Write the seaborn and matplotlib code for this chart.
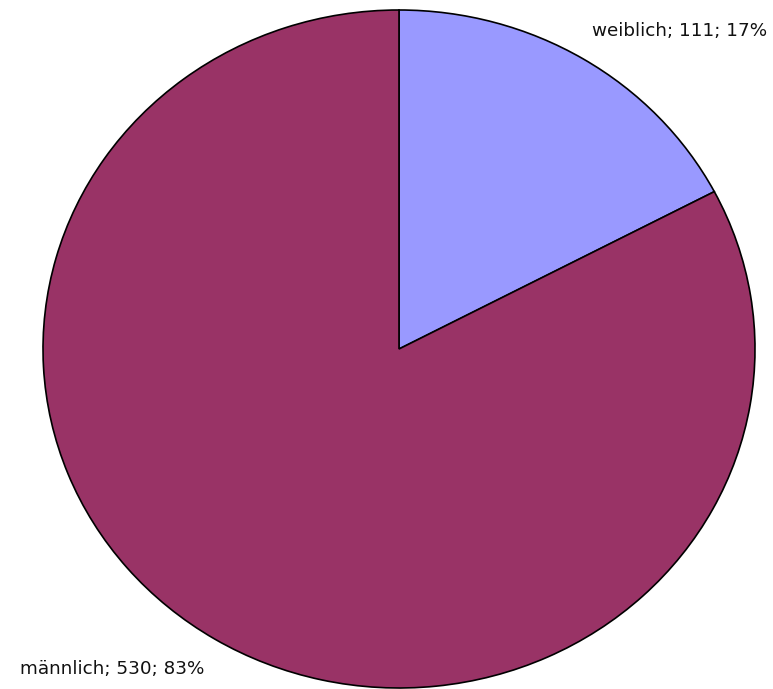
import matplotlib
matplotlib.use("Agg")
import matplotlib.pyplot as plt
import seaborn as sns

categories = ["weiblich", "männlich"]
values = [111, 530]
percents = [17, 83]
colors = ["#9999FF", "#993366"]

sns.set_style("white")
plt.rcParams['font.family'] = ['DejaVu Sans']

W, H = 773, 689
fig = plt.figure(figsize=(W / 100, H / 100), dpi=100)
fig.patch.set_facecolor("white")

# axes placed so the (elliptical) pie spans the same pixel extents
left, right, top, bottom = 43, 755, 10, 688
ax = fig.add_axes([left / W, (H - bottom) / H, (right - left) / W, (bottom - top) / H])
wedges, _ = ax.pie(values, colors=colors, startangle=90, counterclock=False,
                   wedgeprops=dict(edgecolor="black", linewidth=1.2))
ax.set_aspect("auto")
ax.set_xlim(-1, 1)
ax.set_ylim(-1, 1)
ax.axis("off")

labels = [f"{c}; {v}; {p}%" for c, v, p in zip(categories, values, percents)]
fig.text(592 / W, 1 - 31 / H, labels[0], ha="left", va="center", fontsize=13.2, color="#111111")
fig.text(20 / W, 1 - 669 / H, labels[1], ha="left", va="center", fontsize=13.2, color="#111111")

fig.savefig("out.png", dpi=100)
